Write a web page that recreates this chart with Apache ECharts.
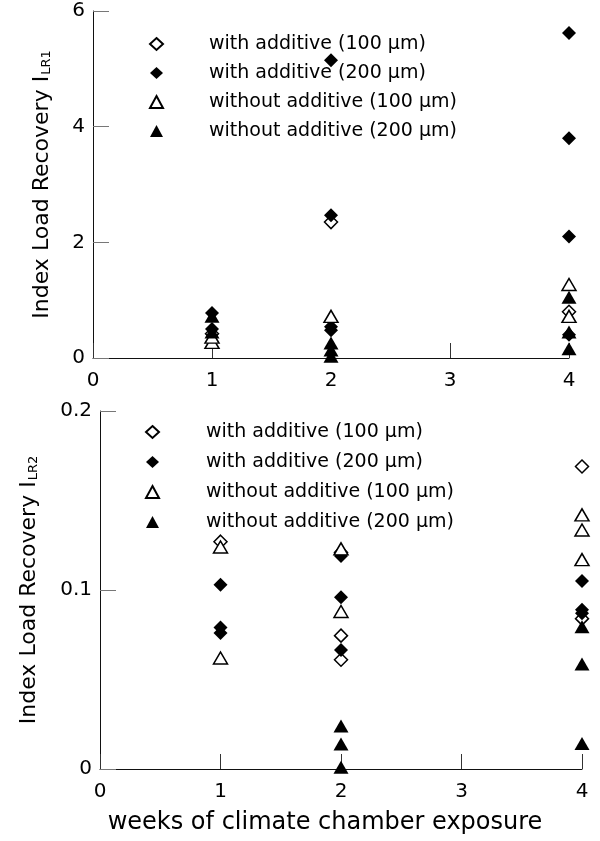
<!DOCTYPE html>
<html><head><meta charset="utf-8">
<script src="https://cdn.jsdelivr.net/npm/echarts@6/dist/echarts.min.js"></script>
<style>html,body{margin:0;padding:0;background:#fff}#c{width:600px;height:841px}</style>
</head><body><div id="c"></div>
<script>
// ---- data ----
const seriesNames = ['with additive (100 \u03bcm)', 'with additive (200 \u03bcm)', 'without additive (100 \u03bcm)', 'without additive (200 \u03bcm)'];
const xTickLabels = ['0', '1', '2', '3', '4'];
const yTicksLR1 = [0, 2, 4, 6];
const yTicksLR2 = [0, 0.1, 0.2];

// Index Load Recovery I_LR1 : [week, value]
const lr1With100 = [[1, 0.42], [2, 2.35], [4, 0.80]];
const lr1With200 = [[1, 0.78], [1, 0.50], [2, 5.15], [2, 2.47], [2, 0.54], [2, 0.48], [4, 5.62], [4, 3.80], [4, 2.10], [4, 0.40]];
const lr1Without100 = [[1, 0.27], [1, 0.36], [2, 0.72], [4, 1.27], [4, 0.72]];
const lr1Without200 = [[1, 0.72], [1, 0.45], [2, 0.26], [2, 0.14], [2, 0.03], [4, 1.05], [4, 0.45], [4, 0.16]];

// Index Load Recovery I_LR2 : [week, value]
const lr2With100 = [[1, 0.127], [2, 0.121], [2, 0.0745], [2, 0.061], [4, 0.169], [4, 0.084]];
const lr2With200 = [[1, 0.103], [1, 0.079], [1, 0.076], [2, 0.119], [2, 0.096], [2, 0.0665], [4, 0.105], [4, 0.089], [4, 0.087]];
const lr2Without100 = [[1, 0.124], [1, 0.062], [2, 0.123], [2, 0.088], [4, 0.142], [4, 0.1335], [4, 0.117]];
const lr2Without200 = [[2, 0.024], [2, 0.014], [2, 0.001], [4, 0.0795], [4, 0.0587], [4, 0.0143]];

// ---- styling ----
const FONT = 'DejaVu Sans';
const styles = [
  { symbol: 'diamond', symbolSize: [13, 13], itemStyle: { color: '#fff', borderColor: '#000', borderWidth: 1.5, opacity: 1 } },
  { symbol: 'diamond', symbolSize: [14, 14], itemStyle: { color: '#000', borderColor: '#000', borderWidth: 0, opacity: 1 } },
  { symbol: 'triangle', symbolSize: [14, 12], itemStyle: { color: '#fff', borderColor: '#000', borderWidth: 1.5, opacity: 1 } },
  { symbol: 'triangle', symbolSize: [15, 13], itemStyle: { color: '#000', borderColor: '#000', borderWidth: 0, opacity: 1 } }
];
function mk(i, data, idx) {
  return Object.assign({ type: 'scatter', name: seriesNames[i], data: data, xAxisIndex: idx, yAxisIndex: idx, z: 2 + i }, styles[i]);
}
function xAxisCfg(grid, extra) {
  return Object.assign({
    type: 'value', gridIndex: grid, min: 0, max: 4, interval: 1,
    axisLine: { show: true, onZero: false, lineStyle: { color: '#111', width: 1 } },
    axisTick: { show: true, inside: true, length: 15, lineStyle: { color: '#333' } },
    axisLabel: { color: '#000', fontFamily: FONT, fontSize: 20, margin: 13, formatter: v => xTickLabels[v] },
    splitLine: { show: false }
  }, extra || {});
}
function yAxisCfg(grid, max, interval, name, sub, gap, fmt) {
  return {
    type: 'value', gridIndex: grid, min: 0, max: max, interval: interval,
    axisLine: { show: true, onZero: false, lineStyle: { color: '#111', width: 1 } },
    axisTick: { show: true, inside: true, length: 16, lineStyle: { color: '#777' } },
    axisLabel: { color: '#000', fontFamily: FONT, fontSize: 20, margin: 8, formatter: fmt },
    splitLine: { show: false },
    name: '{a|' + name + '}{s|' + sub + '}', nameLocation: 'middle', nameRotate: 90, nameGap: gap,
    nameTextStyle: { rich: {
      a: { fontFamily: FONT, fontSize: 22, color: '#000' },
      s: { fontFamily: FONT, fontSize: 13, color: '#000', verticalAlign: 'bottom', padding: [9, 0, 0, 1] }
    } }
  };
}
function legendCfg(left, top, gap, pad) {
  return {
    orient: 'vertical', left: left, top: top, itemWidth: 13, itemHeight: 12, itemGap: gap,
    selectedMode: false, data: seriesNames,
    textStyle: { fontFamily: FONT, fontSize: 19, color: '#000', lineHeight: 20, padding: [0, 0, 0, pad] }
  };
}

const chart = echarts.init(document.getElementById('c'), null, { renderer: 'canvas' });
chart.setOption({
  backgroundColor: '#fff',
  animation: false,
  grid: [
    { left: 93, top: 11, right: 31, bottom: 483, containLabel: false },
    { left: 100, top: 411, right: 18, bottom: 72, containLabel: false }
  ],
  xAxis: [
    xAxisCfg(0),
    xAxisCfg(1, { name: 'weeks of climate chamber exposure', nameLocation: 'middle', nameGap: 42,
      nameTextStyle: { fontFamily: FONT, fontSize: 24, color: '#000', padding: [0, 32, 0, 0] } })
  ],
  yAxis: [
    yAxisCfg(0, 6, 2, 'Index Load Recovery I', 'LR1', 40, v => String(v)),
    yAxisCfg(1, 0.2, 0.1, 'Index Load Recovery I', 'LR2', 60, v => (v === 0 ? '0' : v.toFixed(1)))
  ],
  legend: [legendCfg(144, 29, 9, 41), legendCfg(140, 417, 10, 42)],
  series: [
    mk(0, lr1With100, 0), mk(1, lr1With200, 0), mk(2, lr1Without100, 0), mk(3, lr1Without200, 0),
    mk(0, lr2With100, 1), mk(1, lr2With200, 1), mk(2, lr2Without100, 1), mk(3, lr2Without200, 1)
  ]
});
</script>
</body></html>
